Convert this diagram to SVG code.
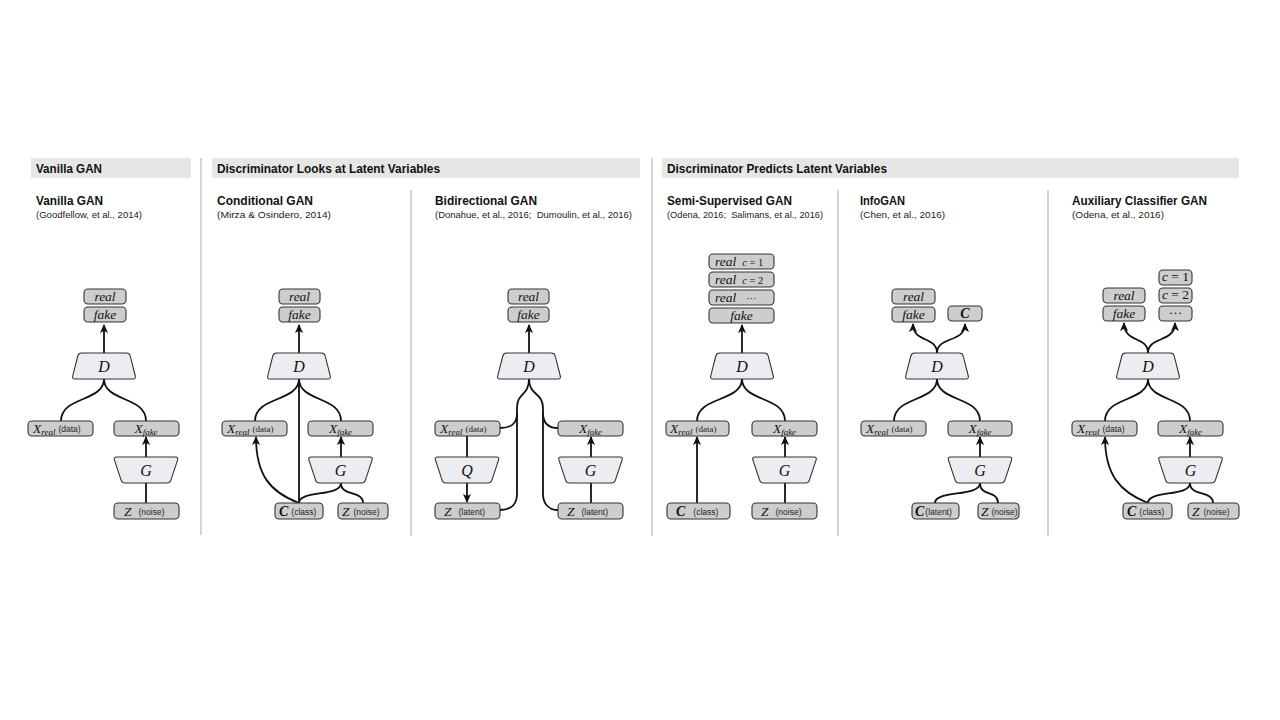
<svg xmlns="http://www.w3.org/2000/svg" xmlns:xlink="http://www.w3.org/1999/xlink" width="1280" height="720" viewBox="0 0 1280 720">
<style>
.band{fill:#e6e6e6}
.sep{stroke:#bdbdbd;stroke-width:1.3}
.hdr{font-family:"Liberation Sans",Arial,sans-serif;font-weight:bold;font-size:12.5px;fill:#111}
.cit{font-family:"Liberation Sans",Arial,sans-serif;font-size:9.5px;fill:#222}
.box{fill:#cdcdcd;stroke:#333;stroke-width:1.1}
.trap{fill:#ececf1;stroke:#333;stroke-width:1.1}
.m{font-family:"Liberation Serif","Times New Roman",serif;font-style:italic;font-size:13.5px;fill:#111}
.big{font-size:16px}
.sub{font-size:9px}
.bc{font-weight:bold;font-size:14px}
.up{font-style:normal}
.lbl{font-family:"Liberation Sans",Arial,sans-serif;font-size:8.5px;fill:#222;font-style:normal}
.lbls{font-family:"Liberation Serif",serif;font-size:9px;fill:#222;font-style:normal}
.e{fill:none;stroke:#111;stroke-width:1.8}
.a{marker-end:url(#ah)}
</style>
<defs>
<marker id="ah" viewBox="0 0 10 10" refX="9" refY="5" markerWidth="9" markerHeight="9" markerUnits="userSpaceOnUse" orient="auto">
<path d="M0,0.5 L10,5 L0,9.5 L2.5,5 Z" fill="#111"/>
</marker>
<path id="dshape" d="M-22.5,0 L22.5,0 Q25.5,0 26.2,3 L31.3,23 Q32,26 29,26 L-29,26 Q-32,26 -31.3,23 L-26.2,3 Q-25.5,0 -22.5,0 Z"/>
<path id="gshape" d="M-29.5,0 L29.5,0 Q32.5,0 31.6,2.9 L24.9,23.1 Q24,26 21,26 L-21,26 Q-24,26 -24.9,23.1 L-31.6,2.9 Q-32.5,0 -29.5,0 Z"/>
</defs>
<rect width="1280" height="720" fill="#ffffff"/>

<g id="headers">
<rect class="band" x="31" y="158" width="160" height="20"/>
<rect class="band" x="212" y="158" width="428" height="20"/>
<rect class="band" x="662" y="158" width="577" height="20"/>
<text class="hdr" x="36" y="173" textLength="66" lengthAdjust="spacingAndGlyphs">Vanilla GAN</text>
<text class="hdr" x="217" y="173" textLength="223" lengthAdjust="spacingAndGlyphs">Discriminator Looks at Latent Variables</text>
<text class="hdr" x="667" y="173" textLength="220" lengthAdjust="spacingAndGlyphs">Discriminator Predicts Latent Variables</text>
</g>

<g id="separators">
<line class="sep" x1="201" y1="158" x2="201" y2="535"/>
<line class="sep" x1="411" y1="190" x2="411" y2="536"/>
<line class="sep" x1="652" y1="158" x2="652" y2="536"/>
<line class="sep" x1="838" y1="190" x2="838" y2="536"/>
<line class="sep" x1="1048" y1="190" x2="1048" y2="536"/>
</g>

<g id="titles">
<text class="hdr" x="36" y="205" textLength="67" lengthAdjust="spacingAndGlyphs">Vanilla GAN</text>
<text class="cit" x="36" y="218" textLength="106" lengthAdjust="spacingAndGlyphs">(Goodfellow, et al., 2014)</text>
<text class="hdr" x="217" y="205" textLength="96" lengthAdjust="spacingAndGlyphs">Conditional GAN</text>
<text class="cit" x="217" y="218" textLength="114" lengthAdjust="spacingAndGlyphs">(Mirza &amp; Osindero, 2014)</text>
<text class="hdr" x="435" y="205" textLength="102" lengthAdjust="spacingAndGlyphs">Bidirectional GAN</text>
<text class="cit" x="435" y="218" textLength="197" lengthAdjust="spacingAndGlyphs">(Donahue, et al., 2016;&#160; Dumoulin, et al., 2016)</text>
<text class="hdr" x="667" y="205" textLength="125" lengthAdjust="spacingAndGlyphs">Semi-Supervised GAN</text>
<text class="cit" x="667" y="218" textLength="156" lengthAdjust="spacingAndGlyphs">(Odena, 2016;&#160; Salimans, et al., 2016)</text>
<text class="hdr" x="860" y="205" textLength="45" lengthAdjust="spacingAndGlyphs">InfoGAN</text>
<text class="cit" x="860" y="218" textLength="85" lengthAdjust="spacingAndGlyphs">(Chen, et al., 2016)</text>
<text class="hdr" x="1072" y="205" textLength="135" lengthAdjust="spacingAndGlyphs">Auxiliary Classifier GAN</text>
<text class="cit" x="1072" y="218" textLength="92" lengthAdjust="spacingAndGlyphs">(Odena, et al., 2016)</text>
</g>

<g id="connectors">
<!-- Vanilla -->
<path class="e a" d="M104,353 L104,325"/>
<path class="e" d="M104,379 C104,402 61,396 61,421"/>
<path class="e" d="M104,379 C104,402 146,396 146,421"/>
<path class="e a" d="M146,457 L146,437"/>
<path class="e" d="M146,503 L146,483"/>
<!-- Conditional -->
<path class="e a" d="M299,353 L299,325"/>
<path class="e" d="M299,379 C299,402 255,396 255,421"/>
<path class="e" d="M299,379 C299,402 341,396 341,421"/>
<path class="e" d="M299,379 L299,503"/>
<path class="e a" d="M299,503 C270,492 256,475 256,437"/>
<path class="e" d="M299,503 C299,490 341,497 341,483"/>
<path class="e" d="M363,503 C363,490 341,497 341,483"/>
<path class="e a" d="M341,457 L341,437"/>
<!-- Bidirectional -->
<path class="e a" d="M529,353 L529,325"/>
<path class="e" d="M529,379 C529,396 517,392 517,408 L517,494 C517,504 511,510 500,510"/>
<path class="e" d="M517,413 C517,424 511,428 500,428"/>
<path class="e" d="M529,379 C529,396 543,392 543,408 L543,494 C543,504 549,510 558,510"/>
<path class="e" d="M543,413 C543,424 549,428 558,428"/>
<path class="e" d="M467,436 L467,457"/>
<path class="e a" d="M467,483 L467,502"/>
<path class="e a" d="M591,457 L591,437"/>
<path class="e" d="M591,503 L591,483"/>
<!-- Semi-supervised -->
<path class="e a" d="M742,353 L742,325"/>
<path class="e" d="M742,379 C742,402 697,396 697,421"/>
<path class="e" d="M742,379 C742,402 785,396 785,421"/>
<path class="e a" d="M697,503 L697,437"/>
<path class="e a" d="M785,457 L785,437"/>
<path class="e" d="M785,503 L785,483"/>
<!-- InfoGAN -->
<path class="e a" d="M937,353 C937,336 913,343 913,324"/>
<path class="e a" d="M937,353 C937,336 965,343 965,324"/>
<path class="e" d="M937,379 C937,402 894,396 894,421"/>
<path class="e" d="M937,379 C937,402 980,396 980,421"/>
<path class="e a" d="M980,457 L980,437"/>
<path class="e" d="M935,503 C935,490 980,497 980,483"/>
<path class="e" d="M998,503 C998,490 980,497 980,483"/>
<!-- AC-GAN -->
<path class="e a" d="M1148,353 C1148,336 1124,343 1124,323"/>
<path class="e a" d="M1148,353 C1148,336 1175,343 1175,323"/>
<path class="e" d="M1148,379 C1148,402 1105,396 1105,421"/>
<path class="e" d="M1148,379 C1148,402 1190,396 1190,421"/>
<path class="e a" d="M1148,503 C1120,492 1105,475 1105,437"/>
<path class="e" d="M1148,503 C1148,490 1190,497 1190,483"/>
<path class="e" d="M1213,503 C1213,490 1190,497 1190,483"/>
<path class="e a" d="M1190,457 L1190,437"/>
</g>

<!-- Panel 1: Vanilla GAN -->
<g id="v-real"><rect class="box" x="84" y="289" width="42" height="15" rx="4"/><text class="m" x="105" y="300.5" text-anchor="middle">real</text></g>
<g id="v-fake"><rect class="box" x="84" y="307" width="42" height="15" rx="4"/><text class="m" x="105" y="318.5" text-anchor="middle">fake</text></g>
<g id="v-D"><use href="#dshape" class="trap" x="104" y="353"/><text class="m big" x="104" y="371.5" text-anchor="middle">D</text></g>
<g id="v-xreal"><rect class="box" x="28" y="421" width="65" height="15" rx="4"/><text class="m" x="33" y="432.5">X<tspan class="sub" dy="2">real</tspan><tspan class="lbl" dx="3" dy="-2.5">(data)</tspan></text></g>
<g id="v-xfake"><rect class="box" x="114" y="421" width="65" height="15" rx="4"/><text class="m" x="146" y="432.5" text-anchor="middle">X<tspan class="sub" dy="2">fake</tspan></text></g>
<g id="v-G"><use href="#gshape" class="trap" x="146" y="457"/><text class="m big" x="146" y="475.5" text-anchor="middle">G</text></g>
<g id="v-z"><rect class="box" x="114" y="503" width="65" height="16" rx="4"/><text class="m" x="124" y="515.5">Z<tspan class="lbl" dx="7" dy="-0.5">(noise)</tspan></text></g>

<!-- Panel 2: Conditional GAN -->
<g id="c-real"><rect class="box" x="279" y="289" width="41" height="15" rx="4"/><text class="m" x="299.5" y="300.5" text-anchor="middle">real</text></g>
<g id="c-fake"><rect class="box" x="279" y="307" width="41" height="15" rx="4"/><text class="m" x="299.5" y="318.5" text-anchor="middle">fake</text></g>
<g id="c-D"><use href="#dshape" class="trap" x="299" y="353"/><text class="m big" x="299" y="371.5" text-anchor="middle">D</text></g>
<g id="c-xreal"><rect class="box" x="222" y="421" width="65" height="15" rx="4"/><text class="m" x="227" y="432.5">X<tspan class="sub" dy="2">real</tspan><tspan class="lbls" dx="3" dy="-2.5">(data)</tspan></text></g>
<g id="c-xfake"><rect class="box" x="308" y="421" width="65" height="15" rx="4"/><text class="m" x="340.5" y="432.5" text-anchor="middle">X<tspan class="sub" dy="2">fake</tspan></text></g>
<g id="c-G"><use href="#gshape" class="trap" x="340.5" y="457"/><text class="m big" x="340.5" y="475.5" text-anchor="middle">G</text></g>
<g id="c-c"><rect class="box" x="275" y="503" width="48" height="16" rx="4"/><text class="m bc" x="279" y="515.5">C<tspan class="lbl" font-weight="normal" dx="3" dy="-0.5">(class)</tspan></text></g>
<g id="c-z"><rect class="box" x="338" y="503" width="50" height="16" rx="4"/><text class="m" x="342" y="515.5">Z<tspan class="lbl" dx="4" dy="-0.5">(noise)</tspan></text></g>

<!-- Panel 3: Bidirectional GAN -->
<g id="b-real"><rect class="box" x="508" y="289" width="41" height="15" rx="4"/><text class="m" x="528.5" y="300.5" text-anchor="middle">real</text></g>
<g id="b-fake"><rect class="box" x="508" y="307" width="41" height="15" rx="4"/><text class="m" x="528.5" y="318.5" text-anchor="middle">fake</text></g>
<g id="b-D"><use href="#dshape" class="trap" x="529" y="353"/><text class="m big" x="529" y="371.5" text-anchor="middle">D</text></g>
<g id="b-xreal"><rect class="box" x="435" y="421" width="65" height="15" rx="4"/><text class="m" x="440" y="432.5">X<tspan class="sub" dy="2">real</tspan><tspan class="lbls" dx="3" dy="-2.5">(data)</tspan></text></g>
<g id="b-Q"><use href="#gshape" class="trap" x="467" y="457"/><text class="m big" x="467" y="475.5" text-anchor="middle">Q</text></g>
<g id="b-zl"><rect class="box" x="435" y="503" width="65" height="16" rx="4"/><text class="m" x="444" y="515.5">Z<tspan class="lbl" dx="7" dy="-0.5">(latent)</tspan></text></g>
<g id="b-xfake"><rect class="box" x="558" y="421" width="65" height="15" rx="4"/><text class="m" x="590.5" y="432.5" text-anchor="middle">X<tspan class="sub" dy="2">fake</tspan></text></g>
<g id="b-G"><use href="#gshape" class="trap" x="590.5" y="457"/><text class="m big" x="590.5" y="475.5" text-anchor="middle">G</text></g>
<g id="b-zr"><rect class="box" x="558" y="503" width="65" height="16" rx="4"/><text class="m" x="567" y="515.5">Z<tspan class="lbl" dx="7" dy="-0.5">(latent)</tspan></text></g>

<!-- Panel 4: Semi-Supervised GAN -->
<g id="s-r1"><rect class="box" x="709" y="254" width="65" height="15" rx="4"/><text class="m" x="715" y="265.5">real<tspan dx="6" font-size="10.5">c</tspan><tspan class="up" font-size="10.5"> = 1</tspan></text></g>
<g id="s-r2"><rect class="box" x="709" y="272" width="65" height="15" rx="4"/><text class="m" x="715" y="283.5">real<tspan dx="6" font-size="10.5">c</tspan><tspan class="up" font-size="10.5"> = 2</tspan></text></g>
<g id="s-r3"><rect class="box" x="709" y="290" width="65" height="15" rx="4"/><text class="m" x="715" y="301.5">real<tspan class="up" dx="10" font-size="10">···</tspan></text></g>
<g id="s-fake"><rect class="box" x="709" y="308" width="65" height="15" rx="4"/><text class="m" x="741.5" y="319.5" text-anchor="middle">fake</text></g>
<g id="s-D"><use href="#dshape" class="trap" x="742" y="353"/><text class="m big" x="742" y="371.5" text-anchor="middle">D</text></g>
<g id="s-xreal"><rect class="box" x="666" y="421" width="63" height="15" rx="4"/><text class="m" x="670" y="432.5">X<tspan class="sub" dy="2">real</tspan><tspan class="lbls" dx="3" dy="-2.5">(data)</tspan></text></g>
<g id="s-xfake"><rect class="box" x="752" y="421" width="65" height="15" rx="4"/><text class="m" x="784.5" y="432.5" text-anchor="middle">X<tspan class="sub" dy="2">fake</tspan></text></g>
<g id="s-G"><use href="#gshape" class="trap" x="784.5" y="457"/><text class="m big" x="784.5" y="475.5" text-anchor="middle">G</text></g>
<g id="s-c"><rect class="box" x="667" y="503" width="63" height="16" rx="4"/><text class="m bc" x="676" y="515.5">C<tspan class="lbl" font-weight="normal" dx="8" dy="-0.5">(class)</tspan></text></g>
<g id="s-z"><rect class="box" x="752" y="503" width="65" height="16" rx="4"/><text class="m" x="761" y="515.5">Z<tspan class="lbl" dx="7" dy="-0.5">(noise)</tspan></text></g>

<!-- Panel 5: InfoGAN -->
<g id="i-real"><rect class="box" x="892" y="289" width="43" height="15" rx="4"/><text class="m" x="913.5" y="300.5" text-anchor="middle">real</text></g>
<g id="i-fake"><rect class="box" x="892" y="307" width="43" height="15" rx="4"/><text class="m" x="913.5" y="318.5" text-anchor="middle">fake</text></g>
<g id="i-cout"><rect class="box" x="948" y="306" width="34" height="15" rx="4"/><text class="m bc" x="965" y="318" text-anchor="middle">C</text></g>
<g id="i-D"><use href="#dshape" class="trap" x="937" y="353"/><text class="m big" x="937" y="371.5" text-anchor="middle">D</text></g>
<g id="i-xreal"><rect class="box" x="861" y="421" width="65" height="15" rx="4"/><text class="m" x="866" y="432.5">X<tspan class="sub" dy="2">real</tspan><tspan class="lbls" dx="3" dy="-2.5">(data)</tspan></text></g>
<g id="i-xfake"><rect class="box" x="948" y="421" width="64" height="15" rx="4"/><text class="m" x="980" y="432.5" text-anchor="middle">X<tspan class="sub" dy="2">fake</tspan></text></g>
<g id="i-G"><use href="#gshape" class="trap" x="980" y="457"/><text class="m big" x="980" y="475.5" text-anchor="middle">G</text></g>
<g id="i-c"><rect class="box" x="912" y="503" width="47" height="16" rx="4"/><text class="m bc" x="915" y="515.5">C<tspan class="lbl" font-weight="normal" dx="1" dy="-0.5">(latent)</tspan></text></g>
<g id="i-z"><rect class="box" x="978" y="503" width="41" height="16" rx="4"/><text class="m" x="981" y="515.5">Z<tspan class="lbl" dx="3" dy="-0.5">(noise)</tspan></text></g>

<!-- Panel 6: Auxiliary Classifier GAN -->
<g id="a-real"><rect class="box" x="1103" y="288" width="42" height="15" rx="4"/><text class="m" x="1124" y="299.5" text-anchor="middle">real</text></g>
<g id="a-fake"><rect class="box" x="1103" y="306" width="42" height="15" rx="4"/><text class="m" x="1124" y="317.5" text-anchor="middle">fake</text></g>
<g id="a-c1"><rect class="box" x="1159" y="270" width="33" height="15" rx="4"/><text class="m" x="1175.5" y="281" text-anchor="middle" font-size="10.5">c<tspan class="up"> = 1</tspan></text></g>
<g id="a-c2"><rect class="box" x="1159" y="288" width="33" height="15" rx="4"/><text class="m" x="1175.5" y="299" text-anchor="middle" font-size="10.5">c<tspan class="up"> = 2</tspan></text></g>
<g id="a-c3"><rect class="box" x="1159" y="306" width="33" height="15" rx="4"/><text class="m up" x="1175.5" y="317" text-anchor="middle" font-size="10">···</text></g>
<g id="a-D"><use href="#dshape" class="trap" x="1148" y="353"/><text class="m big" x="1148" y="371.5" text-anchor="middle">D</text></g>
<g id="a-xreal"><rect class="box" x="1072" y="421" width="65" height="15" rx="4"/><text class="m" x="1077" y="432.5">X<tspan class="sub" dy="2">real</tspan><tspan class="lbl" dx="3" dy="-2.5">(data)</tspan></text></g>
<g id="a-xfake"><rect class="box" x="1158" y="421" width="65" height="15" rx="4"/><text class="m" x="1190.5" y="432.5" text-anchor="middle">X<tspan class="sub" dy="2">fake</tspan></text></g>
<g id="a-G"><use href="#gshape" class="trap" x="1190.5" y="457"/><text class="m big" x="1190.5" y="475.5" text-anchor="middle">G</text></g>
<g id="a-c"><rect class="box" x="1123" y="503" width="49" height="16" rx="4"/><text class="m bc" x="1127" y="515.5">C<tspan class="lbl" font-weight="normal" dx="3" dy="-0.5">(class)</tspan></text></g>
<g id="a-z"><rect class="box" x="1188" y="503" width="51" height="16" rx="4"/><text class="m" x="1192" y="515.5">Z<tspan class="lbl" dx="4" dy="-0.5">(noise)</tspan></text></g>
</svg>
